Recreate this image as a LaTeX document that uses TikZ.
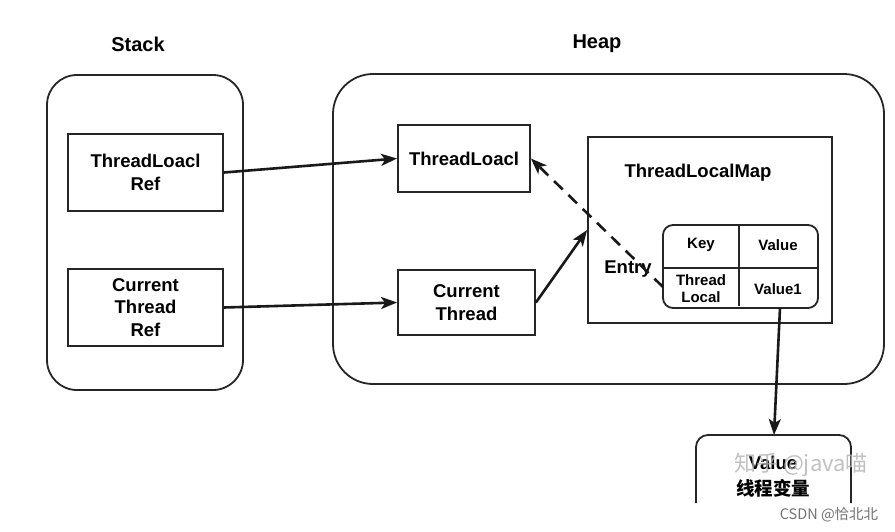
\documentclass[tikz,border=0pt]{standalone}
\usepackage{fontspec}
\setmainfont{Liberation Sans}
\newfontfamily\cjk{Noto Sans CJK SC}
\usetikzlibrary{arrows.meta,calc}
\begin{document}
\begin{tikzpicture}[x=1pt,y=-1pt,
  every node/.style={inner sep=0pt, align=center, font=\fontsize{18.5}{22.5}\selectfont\bfseries},
  boxline/.style={draw=black!85, line width=1.8pt},
  rbox/.style={boxline, rectangle},
  conn/.style={line width=2.6pt, draw=black!90, -{Stealth[length=16pt,width=12pt,inset=4pt]}},
  small/.style={font=\fontsize{15}{17}\selectfont\bfseries},
  title/.style={font=\fontsize{20}{24}\selectfont\bfseries},
  wm/.style={text=black!30, opacity=0.8}
]
\useasboundingbox (0,0) rectangle (895,531);
\fill[white] (0,0) rectangle (895,531);

% titles
\node[title] (stacklbl) at (138,44) {Stack};
\node[title] (heaplbl) at (597,44) {Heap};

% containers
\node[boxline, rounded corners=30pt, minimum width=196pt, minimum height=315pt] (stackbox) at (145,232.5) {};
\node[boxline, rounded corners=40pt, minimum width=551pt, minimum height=310pt] (heapbox) at (608.5,229) {};

% stack boxes
\node[rbox, minimum width=155pt, minimum height=77pt] (tlref) at (145.5,172.5) {ThreadLoacl\\Ref};
\node[rbox, minimum width=155pt, minimum height=77pt] (ctref) at (145.5,307.5) {Current\\Thread\\Ref};

% heap boxes
\node[rbox, minimum width=132pt, minimum height=67pt] (tl) at (464,158.5) {ThreadLoacl};
\node[rbox, minimum width=137pt, minimum height=65pt] (ct) at (466.5,302.5) {Current\\Thread};
\node[rbox, minimum width=244pt, minimum height=186pt] (tlm) at (710,230) {};
\node (tlmlbl) at (698,173) {ThreadLocalMap};

% entry table
\node[boxline, rounded corners=10pt, minimum width=155pt, minimum height=83pt] (entry) at (740.5,266.5) {};
\draw[boxline] (739,225) -- (739,306);
\draw[boxline] (663,268) -- (818,268);
\node[small] (key) at (701,245) {Key};
\node[small] (val) at (778,245) {Value};
\node[small] (tlcell) at (701,289) {Thread\\Local};
\node[small] (v1) at (778,289) {Value1};
\node (entrylbl) at (628,269) {Entry};

% value box (cropped at bottom)
\draw[boxline, rounded corners=12pt] (696,503) -- (696,435) -- (851,435) -- (851,503);
\coordinate (valtop) at (774,435);
\node (valtxt) at (773,463) {Value};
\node[font=\cjk\fontsize{18.5}{22}\selectfont\bfseries] (valcn) at (773,488) {线程变量};

% watermarks
\node[wm, font=\cjk\fontsize{22}{24}\selectfont] (wm1) at (801,465) {知乎 @java喵};
\node[text=black!55, font=\cjk\fontsize{14.5}{16}\selectfont] (wm2) at (829,515) {CSDN @恰北北};

% connectors
\coordinate (entryleft) at (663,287);
\coordinate (v1bot) at (780,308);
\draw[conn] (tlref.east) -- (tl.west);
\draw[conn] (ctref.east) -- (ct.west);
\draw[conn] (ct.east) -- (tlm.west);
\draw[conn, dash pattern=on 12pt off 8pt] (entryleft) -- (tl.east);
\draw[conn] (v1bot) -- (valtop);
\end{tikzpicture}
\end{document}
